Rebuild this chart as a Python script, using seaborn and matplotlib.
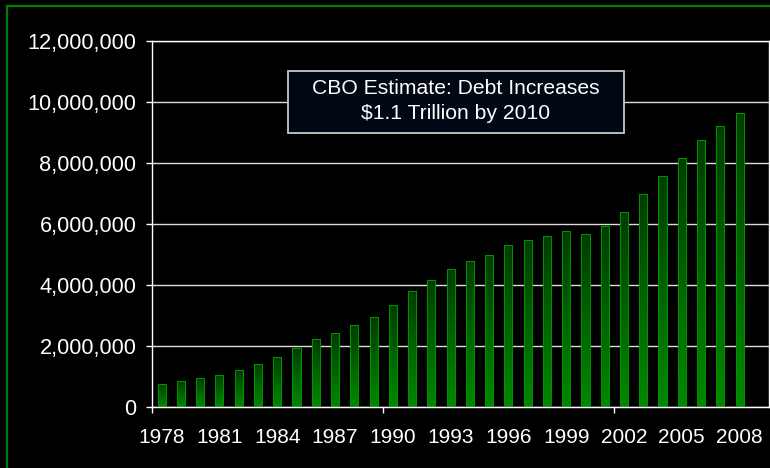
import matplotlib
matplotlib.use("Agg")
import matplotlib.pyplot as plt
import seaborn as sns
import numpy as np
import pandas as pd
from matplotlib.colors import LinearSegmentedColormap
from matplotlib.patches import Rectangle
from matplotlib.ticker import FuncFormatter, FixedLocator

# ---- data ----
years = list(range(1978, 2009))
debt = [770000, 850000, 950000, 1050000, 1210000, 1410000, 1640000, 1950000,
        2220000, 2430000, 2690000, 2950000, 3360000, 3800000, 4170000, 4540000,
        4790000, 4980000, 5310000, 5480000, 5620000, 5760000, 5660000, 5920000,
        6390000, 6990000, 7570000, 8170000, 8750000, 9220000, 9630000]
all_years = [str(y) for y in range(1978, 2010)]
tick_years = [str(y) for y in range(1978, 2009, 3)]
box_text = "CBO Estimate: Debt Increases\n$1.1 Trillion by 2010"

sns.set_theme(style="dark")
plt.rcParams['font.family'] = ['Liberation Sans', 'DejaVu Sans']

fig = plt.figure(figsize=(7.7, 4.68), dpi=100, facecolor='black')
W, H = 770, 468
ax = fig.add_axes([152 / W, (H - 407) / H, (768.5 - 152) / W, (407 - 41) / H])
ax.set_facecolor('black')

df = pd.DataFrame({"year": [str(y) for y in years], "debt": debt})
sns.barplot(data=df, x="year", y="debt", order=all_years, width=0.42,
            color='#008000', ax=ax, zorder=3)

ax.set_xlim(-0.5, 31.5)
ax.set_ylim(0, 12000000)

# gradient fill per bar
cmap = LinearSegmentedColormap.from_list("g", ['#008800', '#006400', '#003c00'])
grad = np.linspace(0, 1, 256).reshape(-1, 1)
for p in ax.patches:
    x0, y0 = p.get_x(), p.get_y()
    w, h = p.get_width(), p.get_height()
    if not np.isfinite(h) or h <= 0:
        continue
    im = ax.imshow(grad, cmap=cmap, origin='lower', aspect='auto',
                   extent=[x0, x0 + w, y0, y0 + h], zorder=2.5,
                   interpolation='bicubic')
    im.set_clip_path(p)
    p.set_facecolor('none')
    p.set_edgecolor('#009600')
    p.set_linewidth(0.7)
ax.set_xlim(-0.5, 31.5)
ax.set_ylim(0, 12000000)

# axes styling
ax.yaxis.grid(True, color='#dcdcdc', linewidth=1.0, zorder=1)
ax.xaxis.grid(False)
ax.set_axisbelow(True)
for s in ax.spines.values():
    s.set_visible(True)
    s.set_color('white')
    s.set_linewidth(1.0)

ax.yaxis.set_major_formatter(FuncFormatter(lambda v, _: f"{v:,.0f}"))
ax.set_yticks(np.arange(0, 12000001, 2000000))
ax.tick_params(axis='y', which='major', colors='white', length=4.3, width=1,
               direction='out', pad=7, labelsize=15.7, left=True)

ax.set_xticks([all_years.index(t) for t in tick_years])
ax.set_xticklabels(tick_years)
ax.xaxis.set_minor_locator(FixedLocator([-0.5, 11.5, 23.5]))
ax.tick_params(axis='x', which='major', length=0, pad=15, colors='white',
               labelsize=15)
ax.tick_params(axis='x', which='minor', length=4.3, width=1, color='white',
               direction='out', bottom=True)
ax.set_xlabel("")
ax.set_ylabel("")

# annotation box
bx0 = (288 - 152) / (768.5 - 152)
bw = (624 - 288) / (768.5 - 152)
by0 = (407 - 133) / (407 - 41)
bh = (133 - 71) / (407 - 41)
ax.add_patch(Rectangle((bx0, by0), bw, bh, transform=ax.transAxes,
                       facecolor='#000814', edgecolor='#c8c8c8', linewidth=1.3,
                       zorder=5))
ax.text(bx0 + bw / 2, by0 + bh / 2 + 0.003, box_text, transform=ax.transAxes,
        ha='center', va='center', color='white', fontsize=15.2,
        linespacing=1.38, zorder=6)

# green frame around the figure
fig.patches.append(Rectangle((7 / W, -0.05), 1.1, (H - 6) / H + 0.05,
                             transform=fig.transFigure, fill=False,
                             edgecolor='#008000', linewidth=1.6))

fig.savefig("out.png", dpi=100, facecolor='black')
